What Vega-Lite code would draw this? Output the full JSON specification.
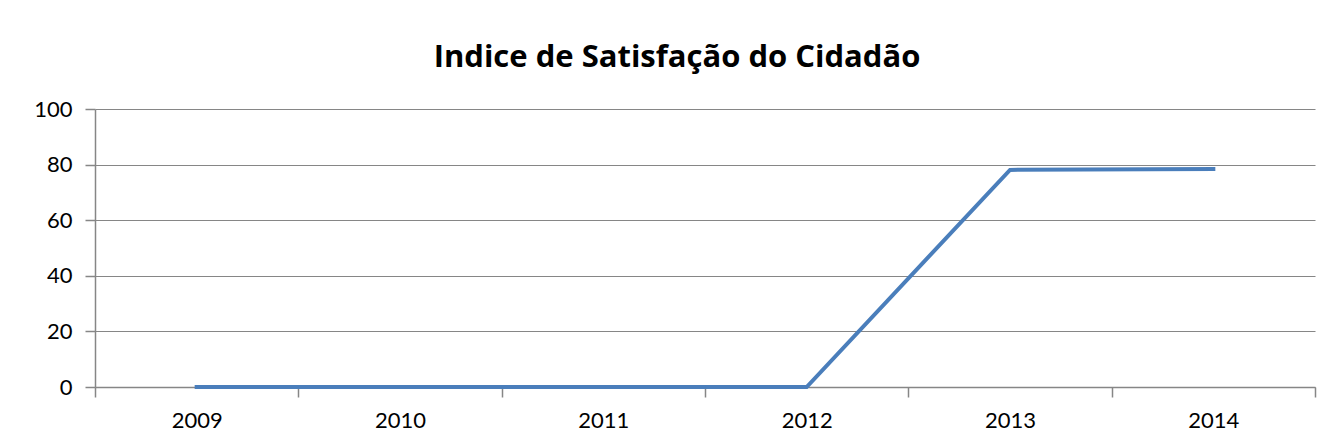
{
  "$schema": "https://vega.github.io/schema/vega-lite/v6.json",
  "autosize": "none",
  "width": 1220,
  "height": 278,
  "padding": {"left": 95, "top": 109, "right": 14, "bottom": 61},
  "background": "white",
  "title": {
    "text": "Indice de Satisfação do Cidadão",
    "font": "Open Sans",
    "fontSize": 31,
    "fontWeight": "bold",
    "color": "#000000",
    "anchor": "middle",
    "baseline": "alphabetic",
    "offset": 0,
    "dx": -28
  },
  "data": {
    "values": [
      {"ano": "2009", "indice": 0},
      {"ano": "2010", "indice": 0},
      {"ano": "2011", "indice": 0},
      {"ano": "2012", "indice": 0},
      {"ano": "2013", "indice": 78.1},
      {"ano": "2014", "indice": 78.4}
    ]
  },
  "mark": {"type": "line", "color": "#4a7ebb", "strokeWidth": 4, "strokeCap": "square"},
  "encoding": {
    "x": {
      "field": "ano",
      "type": "ordinal",
      "scale": {"paddingInner": 0, "paddingOuter": 0},
      "axis": {
        "title": null,
        "labelAngle": 0,
        "tickBand": "extent",
        "tickSize": 10,
        "tickColor": "#868686",
        "domainColor": "#868686",
        "domainWidth": 1.5,
        "tickWidth": 1.5,
        "labelFont": "Lato",
        "labelFontSize": 22,
        "labelColor": "#000000",
        "labelPadding": 13,
        "grid": false
      }
    },
    "y": {
      "field": "indice",
      "type": "quantitative",
      "scale": {"domain": [0, 100], "nice": false},
      "axis": {
        "title": null,
        "values": [0, 20, 40, 60, 80, 100],
        "tickSize": 10,
        "tickColor": "#868686",
        "domainColor": "#868686",
        "domainWidth": 1.5,
        "tickWidth": 1.5,
        "gridColor": "#868686",
        "gridWidth": 1.2,
        "labelFont": "Lato",
        "labelFontSize": 22,
        "labelColor": "#000000",
        "labelPadding": 13
      }
    }
  },
  "config": {"view": {"stroke": null}}
}
